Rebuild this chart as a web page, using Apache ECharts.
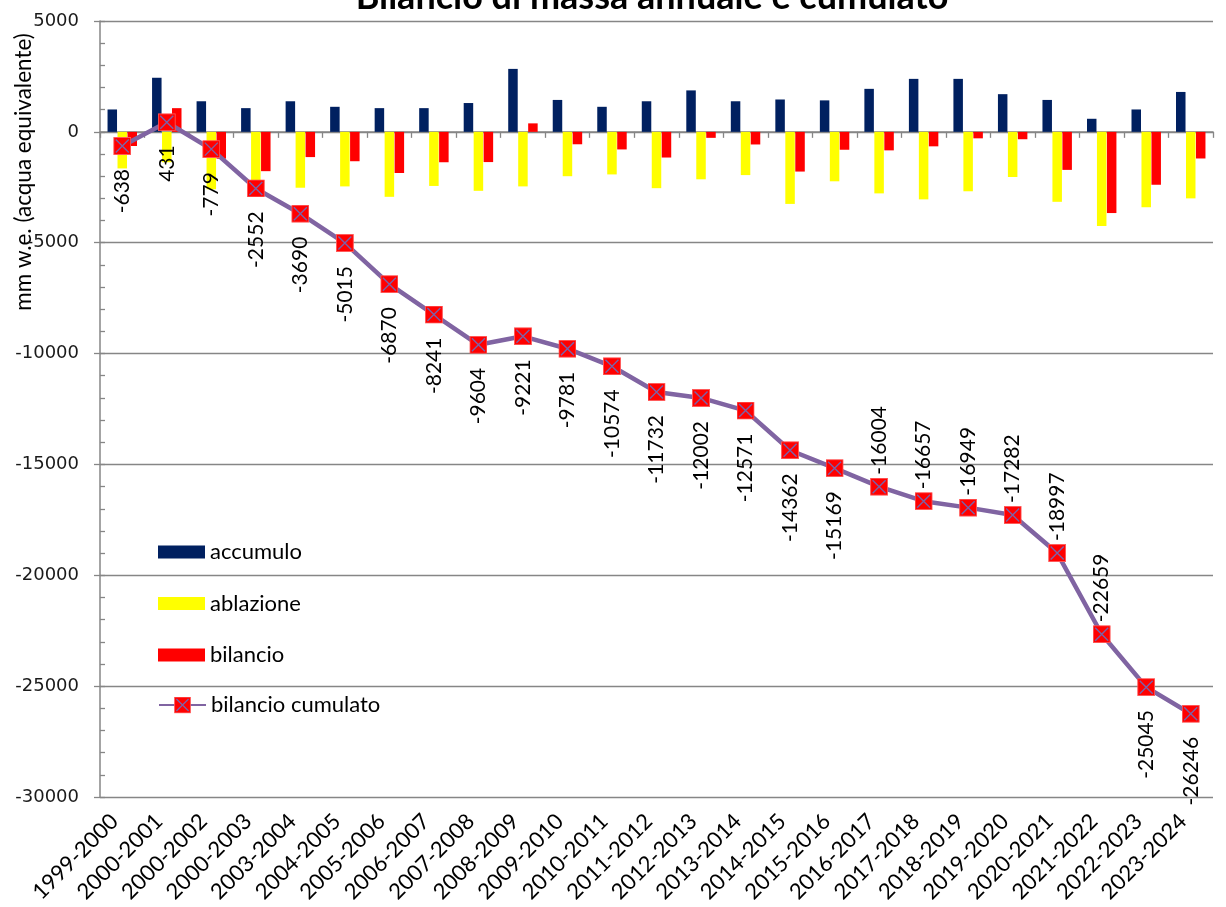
<!DOCTYPE html>
<html>
<head>
<meta charset="utf-8">
<script src="https://cdn.jsdelivr.net/npm/echarts@6/dist/echarts.min.js"></script>
<style>
  html, body { margin: 0; padding: 0; background: #ffffff; }
  #chart { width: 1226px; height: 907px; }
</style>
</head>
<body>
<div id="chart"></div>
<script>
// Glacier mass balance, mm w.e. per hydrological year
const categories = ['1999-2000', '2000-2001', '2000-2002', '2000-2003', '2003-2004', '2004-2005', '2005-2006',
  '2006-2007', '2007-2008', '2008-2009', '2009-2010', '2010-2011', '2011-2012', '2012-2013', '2013-2014',
  '2014-2015', '2015-2016', '2016-2017', '2017-2018', '2018-2019', '2019-2020', '2020-2021', '2021-2022',
  '2022-2023', '2023-2024'];

const accumulo = [1010, 2440, 1380, 1070, 1380, 1130, 1070, 1070, 1300, 2840, 1440, 1130, 1380, 1870, 1380,
  1460, 1420, 1940, 2390, 2390, 1700, 1440, 590, 1010, 1800];

const ablazione = [-1650, -1370, -2590, -2840, -2520, -2460, -2930, -2440, -2660, -2460, -2000, -1920, -2540,
  -2140, -1950, -3250, -2230, -2775, -3045, -2680, -2035, -3155, -4250, -3400, -3000];

const bilancio = [-638, 1069, -1210, -1773, -1138, -1325, -1855, -1371, -1363, 383, -560, -793, -1158, -270,
  -569, -1791, -807, -835, -653, -292, -333, -1715, -3662, -2386, -1201];

const bilancioCumulato = [-638, 431, -779, -2552, -3690, -5015, -6870, -8241, -9604, -9221, -9781, -10574,
  -11732, -12002, -12571, -14362, -15169, -16004, -16657, -16949, -17282, -18997, -22659, -25045, -26246];

const yTicks = { min: -30000, max: 5000, interval: 5000, minor: 1000 };

// cumulative labels drawn above their marker instead of below
const labelsAbove = new Set(['2016-2017', '2017-2018', '2018-2019', '2019-2020', '2020-2021', '2021-2022']);

const FONT = 'Lato, "Open Sans", sans-serif';
const GRAY = '#868686';

// red square marker crossed by a purple X
const markerSvg = "<svg xmlns='http://www.w3.org/2000/svg' width='36' height='36' viewBox='0 0 18 18'>" +
  "<rect x='0.5' y='0.5' width='17' height='17' fill='#FF0000' stroke='#FF5A5A' stroke-width='1'/>" +
  "<path d='M2.5 2.5L15.5 15.5M15.5 2.5L2.5 15.5' stroke='#7B62A8' stroke-width='1.4'/></svg>";
const markerSymbol = 'image://data:image/svg+xml;charset=utf-8,' + encodeURIComponent(markerSvg);

const cumulatoData = bilancioCumulato.map((v, i) => {
  const above = labelsAbove.has(categories[i]);
  return {
    value: v,
    label: above
      ? { position: 'top', align: 'left', verticalAlign: 'middle', distance: 3 }
      : { position: 'bottom', align: 'right', verticalAlign: 'middle', distance: 14 }
  };
});

const chart = echarts.init(document.getElementById('chart'), null, { renderer: 'canvas' });

const barCommon = { type: 'bar', barWidth: 9.5, barGap: '5%', xAxisIndex: 0, yAxisIndex: 0 };
const legendText = { fontFamily: FONT, fontSize: 22, lineHeight: 24, color: '#000' };

chart.setOption({
  animation: false,
  backgroundColor: '#ffffff',
  grid: { left: 100, right: 13, top: 21, bottom: 110, containLabel: false },
  graphic: [
    {
      type: 'text', x: 652, y: 15,
      style: {
        text: 'Bilancio di massa annuale e cumulato', fill: '#000',
        font: 'bold 36px ' + FONT, textAlign: 'center', textVerticalAlign: 'bottom'
      }
    },
    {
      type: 'text', x: 24, y: 172, rotation: Math.PI / 2,
      style: {
        text: 'mm w.e. (acqua equivalente)', fill: '#000',
        font: '22.5px ' + FONT, textAlign: 'center', textVerticalAlign: 'middle'
      }
    }
  ],
  legend: [
    {
      orient: 'vertical', left: 158, top: 540, padding: 0, itemWidth: 47, itemHeight: 13, itemGap: 27.5,
      textStyle: legendText,
      data: [
        { name: 'accumulo', icon: 'rect' },
        { name: 'ablazione', icon: 'rect' },
        { name: 'bilancio', icon: 'rect' }
      ]
    },
    {
      orient: 'vertical', left: 158, top: 693, padding: 0, itemWidth: 47, itemHeight: 21,
      textStyle: legendText,
      data: [{ name: 'bilancio cumulato' }]
    }
  ],
  xAxis: [
    {
      type: 'category', data: categories, position: 'bottom',
      axisLine: { show: false, onZero: false },
      axisTick: { show: false },
      axisLabel: {
        rotate: 45, interval: 0, margin: 13, padding: [0, 11, 0, 0],
        fontFamily: FONT, fontSize: 22, color: '#000'
      },
      splitLine: { show: false }
    },
    {
      type: 'category', data: categories, position: 'bottom',
      axisLine: { show: true, onZero: true, onZeroAxisIndex: 0, lineStyle: { color: GRAY, width: 1.5 } },
      axisTick: { show: true, length: 6, interval: 0, lineStyle: { color: GRAY, width: 1.3 } },
      axisLabel: { show: false },
      splitLine: { show: false }
    }
  ],
  yAxis: [
    {
      type: 'value', min: yTicks.min, max: yTicks.max, interval: yTicks.interval, position: 'left',
      axisLine: { show: true, onZero: false, lineStyle: { color: GRAY, width: 1.5 } },
      axisTick: { show: true, length: 6, lineStyle: { color: GRAY, width: 1.3 } },
      axisLabel: {
        margin: 21, fontFamily: '"DejaVu Sans", Verdana, sans-serif', fontSize: 18, color: '#1a1a1a',
        formatter: (v) => String(v)
      },
      splitLine: { show: true, lineStyle: { color: GRAY, width: 1.3 } }
    },
    {
      type: 'value', min: yTicks.min, max: yTicks.max, interval: yTicks.minor, position: 'left',
      axisLine: { show: false, onZero: false },
      axisTick: { show: true, inside: true, length: 5, lineStyle: { color: GRAY, width: 1.3 } },
      axisLabel: { show: false },
      splitLine: { show: false }
    }
  ],
  series: [
    Object.assign({ name: 'accumulo', data: accumulo, itemStyle: { color: '#002060' } }, barCommon),
    Object.assign({ name: 'ablazione', data: ablazione, itemStyle: { color: '#FFFF00' } }, barCommon),
    Object.assign({ name: 'bilancio', data: bilancio, itemStyle: { color: '#FF0000' } }, barCommon),
    {
      name: 'bilancio cumulato', type: 'line', xAxisIndex: 0, yAxisIndex: 0,
      data: cumulatoData, z: 5,
      symbol: markerSymbol, symbolSize: 18,
      lineStyle: { color: '#8064A2', width: 4.5 },
      itemStyle: { color: '#8064A2' },
      label: { show: true, rotate: 90, fontFamily: FONT, fontSize: 21, color: '#000' }
    }
  ]
});
</script>
</body>
</html>
